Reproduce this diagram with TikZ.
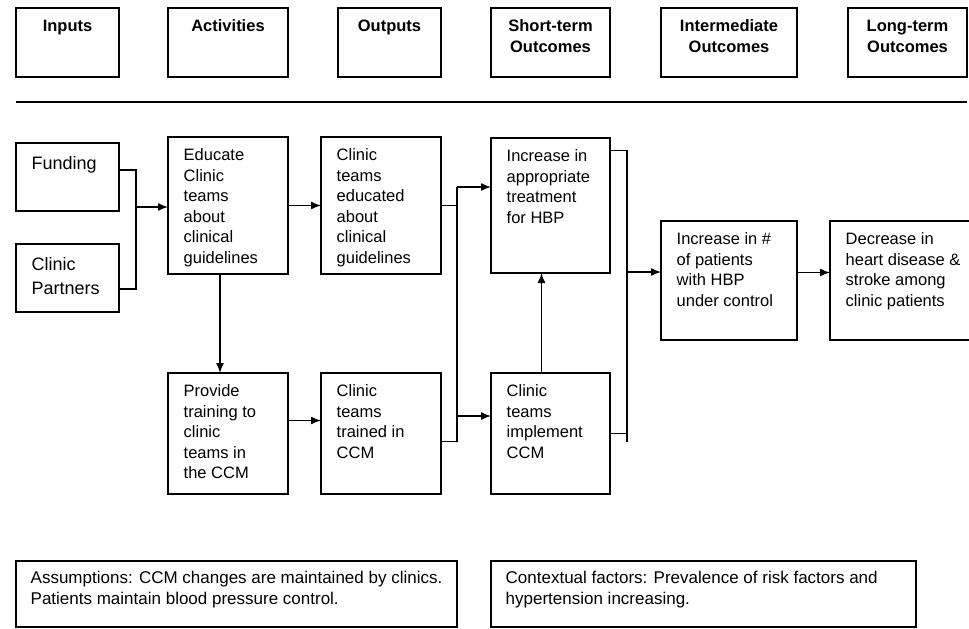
\documentclass[tikz,border=0pt]{standalone}
\usepackage{fontspec}
\setmainfont{Liberation Sans}
\usetikzlibrary{arrows.meta,positioning}

\begin{document}
\begin{tikzpicture}[
x=1pt, y=-1pt,
line width=1.4pt,
stepbox/.style 2 args={rectangle, draw, inner sep=0pt, outer sep=0pt, minimum width=#1, minimum height=#2},
headtext/.style={anchor=north, yshift=-11pt, align=center, inner sep=0pt, font=\fontsize{16.5}{21}\selectfont\bfseries},
inputtext/.style={anchor=north west, xshift=15pt, yshift=-13pt, align=left, inner sep=0pt, font=\fontsize{18}{24}\selectfont},
boxtext/.style={anchor=north west, xshift=15pt, yshift=-11pt, align=left, inner sep=0pt, font=\fontsize{16.5}{20.5}\selectfont},
notetext/.style={anchor=north west, xshift=14pt, yshift=-9pt, align=left, inner sep=0pt, font=\fontsize{17}{21}\selectfont}]
\useasboundingbox (0,0) rectangle (969,629);
% Headings
\node[stepbox={103pt}{69pt}, anchor=north west, label={[headtext]north:Inputs}] (hinputs) at (16,8) {};
\node[stepbox={120pt}{69pt}, label={[headtext]north:Activities}] (hactivities) [right=49pt of hinputs] {};
\node[stepbox={103pt}{69pt}, label={[headtext]north:Outputs}] (houtputs) [right=50pt of hactivities] {};
\node[stepbox={119pt}{69pt}, label={[headtext]north:Short-term\\Outcomes}] (hshort) [right=50pt of houtputs] {};
\node[stepbox={136pt}{69pt}, label={[headtext]north:Intermediate\\Outcomes}] (hinter) [right=51pt of hshort] {};
\node[stepbox={119pt}{69pt}, label={[headtext]north:Long-term\\Outcomes}] (hlong) [right=51pt of hinter] {};
\draw (16,102) -- (967,102);
% Nodes
\node[stepbox={103pt}{68pt}, anchor=north west, label={[inputtext]north west:Funding}] (funding) at (16,143) {};
\node[stepbox={103pt}{68pt}, label={[inputtext]north west:Clinic\\Partners}] (partners) [below=33pt of funding] {};
\node[stepbox={120pt}{137pt}, anchor=north west, label={[boxtext]north west:Educate\\Clinic\\teams\\about\\clinical\\guidelines}] (educate) at (168,137) {};
\node[stepbox={120pt}{137pt}, label={[boxtext]north west:Clinic\\teams\\educated\\about\\clinical\\guidelines}] (educated) [right=33pt of educate] {};
\node[stepbox={119pt}{135pt}, label={[boxtext]north west:Increase in\\appropriate\\treatment\\for HBP}] (increase) [right=50pt of educated] {};
\node[stepbox={120pt}{121pt}, label={[boxtext]north west:Provide\\training to\\clinic\\teams in\\the CCM}] (provide) [below=99pt of educate] {};
\node[stepbox={120pt}{121pt}, label={[boxtext]north west:Clinic\\teams\\trained in\\CCM}] (trained) [right=33pt of provide] {};
\node[stepbox={119pt}{121pt}, label={[boxtext]north west:Clinic\\teams\\implement\\CCM}] (implement) [right=50pt of trained] {};
\node[stepbox={136pt}{119pt}, anchor=north west, label={[boxtext]north west:Increase in \#\\of patients\\with HBP\\under control}] (patients) at (661,221) {};
\node[stepbox={150pt}{119pt}, label={[boxtext]north west:Decrease in\\heart disease \&\\stroke among\\clinic patients}] (disease) [right=33pt of patients] {};
% Notes
\node[stepbox={441pt}{66pt}, anchor=north west, label={[notetext]north west:{Assumptions: CCM changes are maintained by clinics.\\Patients maintain blood pressure control.}}] (assumptions) at (16,561) {};
\node[stepbox={425pt}{66pt}, label={[notetext]north west:{Contextual factors: Prevalence of risk factors and\\hypertension increasing.}}] (context) [right=34pt of assumptions] {};
% Joints
\coordinate (ljoin) at (136,207);
\coordinate (mtop) at (457,187);
\coordinate (mmid) at (457,416);
\coordinate (mbot) at (457,442);
\coordinate (rbot) at (627,442);
\coordinate (rjoin) at (627,272);
% Lines
\draw ([yshift=7pt]funding.east) -| (ljoin);
\draw ([yshift=-11pt]partners.east) -| (ljoin);
\draw[arrows={-Latex[length=10pt,width=8pt]}] (ljoin) -- (ljoin -| educate.west);
\draw[arrows={-Latex[length=10pt,width=8pt]}] (educate) -- (educated);
\draw[arrows={-Latex[length=10pt,width=8pt]}] ([xshift=-8pt]educate.south) -- ([xshift=-8pt]provide.north);
\draw[arrows={-Latex[length=10pt,width=8pt]}] ([yshift=13pt]provide.east) -- ([yshift=13pt]trained.west);
\draw (educated.east) -- (educated.east -| mtop);
\draw ([yshift=-8pt]trained.east) -| (mbot) -- (mtop);
\draw[arrows={-Latex[length=10pt,width=8pt]}] (mtop) -- (mtop -| increase.west);
\draw[arrows={-Latex[length=10pt,width=8pt]}] (mmid) -- (mmid -| implement.west);
\draw[arrows={-Latex[length=10pt,width=8pt]}] ([xshift=-9pt]implement.north) -- ([xshift=-9pt]increase.south);
\draw ([yshift=55pt]increase.east) -| (rbot);
\draw (implement.east) -- (implement.east -| rbot);
\draw[arrows={-Latex[length=10pt,width=8pt]}] (rjoin) -- (rjoin -| patients.west);
\draw[arrows={-Latex[length=10pt,width=8pt]}] ([yshift=8pt]patients.east) -- ([yshift=8pt]disease.west);
\end{tikzpicture}
\end{document}
